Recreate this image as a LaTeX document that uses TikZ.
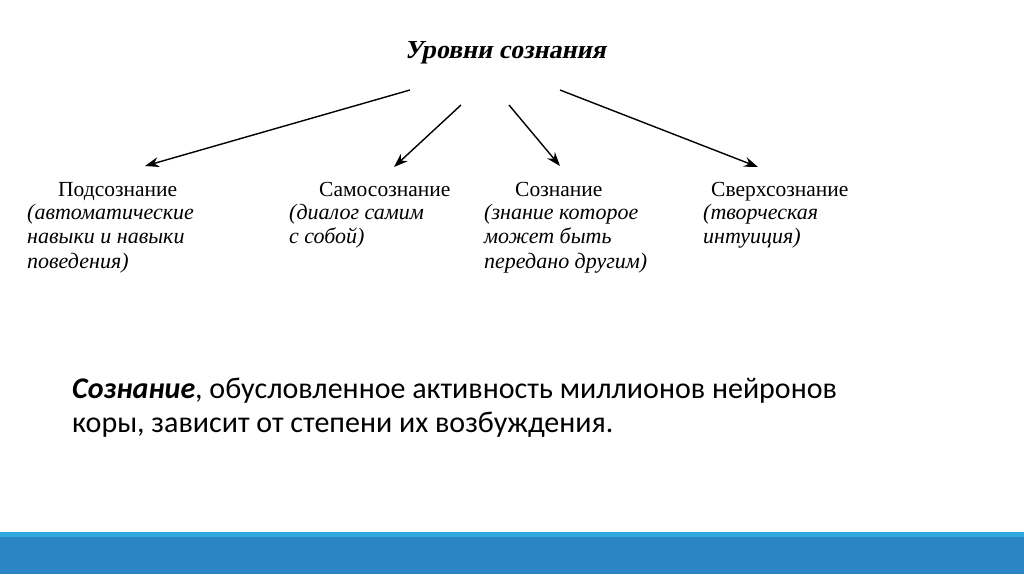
\documentclass[tikz,border=0pt]{standalone}
\usepackage{fontspec}
\setmainfont{Liberation Serif}
\newfontfamily\titlefont[FakeSlant=0.2]{Liberation Serif Bold}
\newfontfamily\bodyfont{Carlito}
\usetikzlibrary{arrows.meta,positioning}
\definecolor{barlight}{HTML}{2FA8E0}
\definecolor{bardark}{HTML}{2B84C4}

\begin{document}
\begin{tikzpicture}[x=1pt,y=-1pt,
    head/.style={anchor=base west,inner sep=0pt,font=\fontsize{21.5}{24}\selectfont},
    note/.style={anchor=base west,inner sep=0pt,align=left,font=\fontsize{22}{24.5}\selectfont\itshape},
    arr/.style={-{Stealth[length=14pt,width=10pt]},line width=1.4pt}]
    \useasboundingbox[fill=white] (0,0) rectangle (1024,574);
    \fill[barlight] (0,532) rectangle (1024,537);
    \fill[bardark] (0,537) rectangle (1024,574);
    \node[anchor=base,inner sep=0pt,font=\titlefont\fontsize{26}{28}\selectfont] (title) at (505,58) {Уровни сознания};
    \node[head] (podh) at (58,196) {Подсознание};
    \node[note] (podn) at (27,268) {(автоматические\\навыки и навыки\\поведения)};
    \node[head] (samh) at (319,196) {Самосознание};
    \node[note] (samn) at (289,243.5) {(диалог самим\\с собой)};
    \node[head] (sozh) at (515,196) {Сознание};
    \node[note] (sozn) at (484,268) {(знание которое\\может быть\\передано другим)};
    \node[head] (sveh) at (711,196) {Сверхсознание};
    \node[note] (sven) at (703,243.5) {(творческая\\интуиция)};
    \coordinate (s1) at (410,90);
    \coordinate (s2) at (461,105);
    \coordinate (s3) at (509,105);
    \coordinate (s4) at (560,90);
    \coordinate (e1) at (145,166);
    \coordinate (e2) at (394,167);
    \coordinate (e3) at (560,166);
    \coordinate (e4) at (758,167);
    \draw[arr] (s1) -- (e1);
    \draw[arr] (s2) -- (e2);
    \draw[arr] (s3) -- (e3);
    \draw[arr] (s4) -- (e4);
    \node[anchor=base west,inner sep=0pt,align=left,font=\bodyfont\fontsize{30}{34}\selectfont] (text) at (72,432)
        {\textbf{\textit{Сознание}}, обусловленное активность миллионов нейронов\\коры, зависит от степени их возбуждения.};
\end{tikzpicture}
\end{document}
